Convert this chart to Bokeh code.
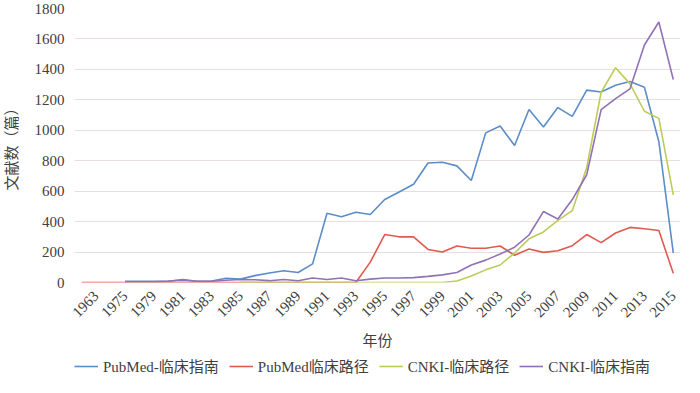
import math
from bokeh.plotting import figure
from bokeh.layouts import column
from bokeh.models import FixedTicker, Legend, LegendItem, Range1d
from bokeh.embed import file_html
from bokeh.resources import INLINE

nan = float("nan")

# category slots (first, third and fifth slots carry no visible label)
slots = ["", "1963", "", "1975", ""] + [str(y) for y in range(1979, 2016)]
x_tick_labels = ["1963", "1975"] + [str(y) for y in range(1979, 2016, 2)]
y_ticks = [0, 200, 400, 600, 800, 1000, 1200, 1400, 1600, 1800]

pubmed_guide = [nan, nan, nan, 8, 8, 8, 10, 15, 8, 10, 28, 22, 45, 62, 77, 66, 122, 455,
                432, 462, 447, 545, 595, 645, 785, 790, 766, 670, 983, 1028, 900, 1136,
                1021, 1149, 1091, 1264, 1251, 1296, 1321, 1283, 925, 195]
pubmed_path = [0, 0, 0, 0, 0, 0, 0, 0, 0, 0, 0, 0, 0, 0, 0, 0, 0, 0, 0, 0, 134, 315,
               300, 300, 217, 200, 240, 225, 225, 240, 179, 220, 198, 209, 242, 315, 262,
               325, 362, 353, 342, 60]
cnki_path = [nan, nan, nan, nan, nan, nan, nan, nan, nan, nan, nan, 0, 0, 0, 0, 0, 0, 0,
             0, 0, 0, 0, 0, 0, 0, 0, 10, 42, 83, 115, 194, 287, 332, 408, 472, 755, 1250,
             1411, 1305, 1125, 1078, 576]
cnki_guide = [nan, nan, nan, 5, 5, 5, 8, 20, 8, 8, 15, 20, 18, 12, 20, 12, 30, 20, 30, 12,
              22, 30, 30, 32, 40, 50, 66, 115, 147, 187, 232, 312, 466, 417, 545, 708,
              1136, 1208, 1272, 1560, 1711, 1334]

names = ["PubMed-临床指南", "PubMed临床路径", "CNKI-临床路径", "CNKI-临床指南"]
series = [pubmed_guide, pubmed_path, cnki_path, cnki_guide]
colors = ["#5B8DC8", "#E05A50", "#BDCB57", "#9271B5"]

FONT = "Liberation Serif, Noto Sans CJK SC, serif"
TXT = "#404040"

xs = list(range(len(slots)))

p = figure(width=684, height=351, output_backend="svg", toolbar_location=None,
           x_range=Range1d(-0.5, len(slots) - 0.5), y_range=Range1d(0, 1800),
           min_border_left=66, min_border_right=4, min_border_top=8, min_border_bottom=0)
p.outline_line_color = None
p.background_fill_color = "white"
p.border_fill_color = "white"
p.xgrid.grid_line_color = None
p.ygrid.grid_line_color = "#E8DEDE"
p.ygrid.grid_line_width = 1

p.yaxis.ticker = FixedTicker(ticks=y_ticks)
tick_pos = [i for i in xs if i % 2 == 1]
p.xaxis.ticker = FixedTicker(ticks=tick_pos)
p.xaxis.major_label_overrides = {pos: lab for pos, lab in zip(tick_pos, x_tick_labels)}
p.xaxis.major_label_orientation = math.pi / 4

for ax in (p.xaxis, p.yaxis):
    ax.axis_line_color = None
    ax.major_tick_line_color = None
    ax.minor_tick_line_color = None
    ax.major_tick_out = 0
    ax.major_tick_in = 0
    ax.major_label_text_font = FONT
    ax.major_label_text_font_size = "15px"
    ax.major_label_text_color = TXT
    ax.axis_label_text_font = FONT
    ax.axis_label_text_font_size = "15px"
    ax.axis_label_text_font_style = "normal"
    ax.axis_label_text_color = TXT

p.yaxis.major_label_standoff = 10
p.yaxis.axis_label = "文献数（篇）"
p.yaxis.axis_label_standoff = 12
p.xaxis.major_label_standoff = 11
p.xaxis.axis_label = "年份"
p.xaxis.axis_label_standoff = 8

for ys, c in zip(series, colors):
    p.line(xs, ys, line_color=c, line_width=1.6)

# legend strip below the chart (its lines lie outside its own visible range)
lg = figure(width=684, height=26, output_backend="svg", toolbar_location=None,
            x_range=Range1d(-0.5, len(slots) - 0.5), y_range=Range1d(-20, -10),
            x_axis_location=None, y_axis_location=None,
            min_border_left=0, min_border_right=0, min_border_top=0, min_border_bottom=0)
lg.grid.visible = False
lg.outline_line_color = None
items = []
for name, ys, c in zip(names, series, colors):
    r = lg.line(xs, ys, line_color=c, line_width=1.6)
    items.append(LegendItem(label=name, renderers=[r]))

legend = Legend(items=items, orientation="horizontal", location=(0, 1))
legend.border_line_color = None
legend.background_fill_alpha = 0
legend.label_text_font = FONT
legend.label_text_font_size = "15px"
legend.label_text_color = TXT
legend.glyph_width = 24
legend.label_standoff = 5
legend.spacing = 10
legend.padding = 2
legend.margin = 0
lg.add_layout(legend)

layout = column(p, lg, spacing=0)
open("out.html", "w").write(file_html(layout, INLINE))
